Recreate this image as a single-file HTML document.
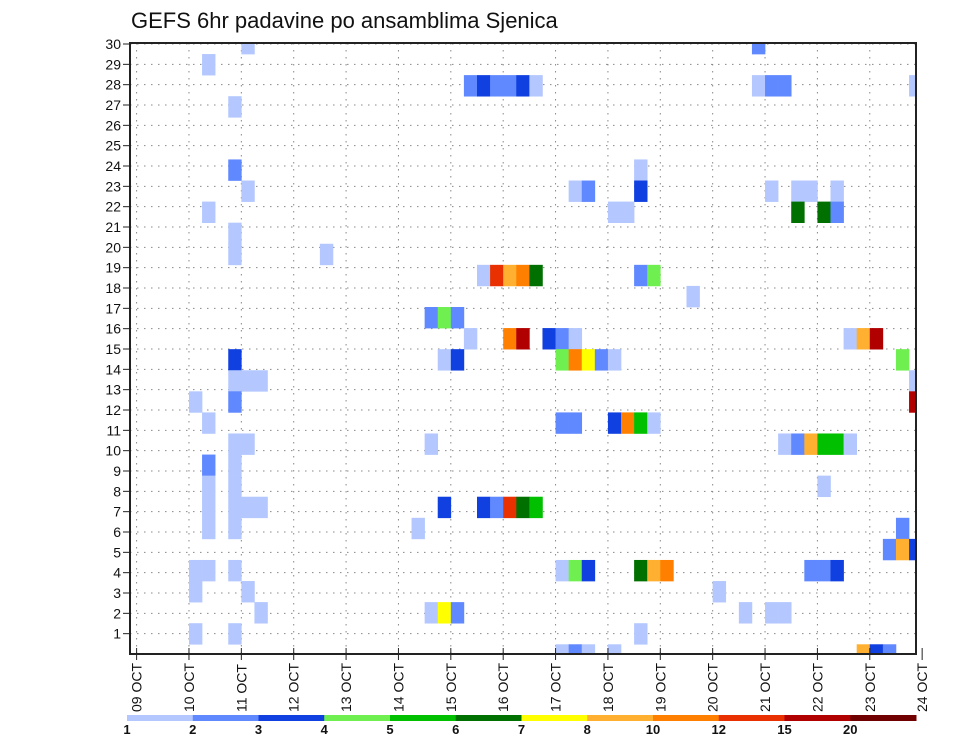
<!DOCTYPE html>
<html><head><meta charset="utf-8"><style>
body{margin:0;background:#fff;}
svg{display:block;font-family:"Liberation Sans",sans-serif;}
</style></head><body>
<svg id="chart" width="960" height="742" viewBox="0 0 960 742" xmlns="http://www.w3.org/2000/svg">
<text x="131" y="28" font-size="22" fill="#111">GEFS 6hr padavine po ansamblima Sjenica</text>
<g id="grid"></g><g id="cells"></g><g id="axes"></g><g id="legend"></g>
</svg>
<script>
const dayLabels=["09","10","11","12","13","14","15","16","17","18","19","20","21","22","23","24"];
const yTickLabels=[1,2,3,4,5,6,7,8,9,10,11,12,13,14,15,16,17,18,19,20,21,22,23,24,25,26,27,28,29,30];
const legendBreaks=["1","2","3","4","5","6","7","8","10","12","15","20"];
const levelColors=["#b4c8ff","#6088ff","#1040e0","#70f050","#00c000","#007000","#ffff00","#ffb030","#ff8000","#e83000","#b00000","#700000"];
// cells: [timeStep(6h from 09 OCT 00z), member, level index]
const cellSteps=[8,5,25,26,27,28,29,30,7,7,8,5,7,7,14,26,27,28,29,30,22,23,24,25,28,29,7,23,24,7,8,9,4,7,5,7,8,22,5,7,5,7,5,7,8,9,23,26,27,28,29,5,7,21,4,5,7,4,8,9,22,23,24,4,7,
47,47,48,49,59,38,33,34,38,48,50,51,53,36,37,50,52,53,38,39,42,31,32,33,54,55,56,32,33,34,35,36,58,59,59,32,33,36,37,38,39,49,50,51,52,53,54,52,30,58,57,58,59,32,33,34,38,39,40,51,52,53,44,46,48,49,38,32,33,34,36,55,56,57];
const cellMembers=[29,28,27,27,27,27,27,27,26,23,22,21,20,19,19,18,18,18,18,18,16,16,16,15,15,15,14,14,14,13,13,13,12,12,11,10,10,10,9,9,8,8,7,7,7,7,7,7,7,7,7,6,6,6,4,4,4,3,3,2,2,2,2,1,1,
29,27,27,27,27,23,22,22,22,22,22,22,22,21,21,21,21,21,18,18,17,15,15,15,15,15,15,14,14,14,14,14,14,13,12,11,11,11,11,11,11,10,10,10,10,10,10,8,7,6,5,5,5,4,4,4,4,4,4,4,4,4,3,2,2,2,1,0,0,0,0,0,0,0];
const cellLevels=[0,0,1,2,1,1,2,0,0,1,0,0,0,0,0,0,9,7,8,5,1,3,1,0,8,10,2,0,2,0,0,0,0,1,0,0,0,0,1,0,0,0,0,0,0,0,2,2,1,9,5,0,0,0,0,0,0,0,0,0,0,6,1,0,0,
1,0,1,1,0,0,0,1,2,0,0,0,0,0,0,5,5,1,1,3,0,2,1,0,0,7,10,3,8,6,1,0,3,0,10,1,1,2,8,4,0,0,1,7,4,4,0,0,4,1,1,7,2,0,3,2,5,7,8,1,1,2,0,0,0,0,0,0,1,0,0,7,2,1];

const NS="http://www.w3.org/2000/svg";
const X0=136.6, DAY=52.37, STEP=DAY/4, PL=130, PR=916, PT=43, PB=654;
const xDay=d=>X0+d*DAY;
const xStep=s=>X0+s*STEP;
const yCellTop=m=>644.3-21.08*m-21.08+21.08; // top of member band
const yCell=m=>623.2-21.08*(m-1);
const yTick=v=>654-20.333*v;
function mk(t,a,p){const e=document.createElementNS(NS,t);for(const k in a)e.setAttribute(k,a[k]);(p||document.getElementById('chart')).appendChild(e);return e;}
const grid=document.getElementById('grid'),cells=document.getElementById('cells'),axes=document.getElementById('axes'),legend=document.getElementById('legend');
mk('clipPath',{id:'plotclip'}).appendChild(Object.assign(document.createElementNS(NS,'rect'),{}));
const cp=document.getElementById('plotclip').firstChild;cp.setAttribute('x',PL);cp.setAttribute('y',PT);cp.setAttribute('width',PR-PL);cp.setAttribute('height',PB-PT);
cells.setAttribute('clip-path','url(#plotclip)');
// grid
yTickLabels.forEach(v=>{const l=mk('line',{x1:PL,x2:PR,y1:yTick(v),y2:yTick(v),stroke:'#888','stroke-width':1,'stroke-dasharray':'1.5 5.5'},grid);

});
dayLabels.forEach((d,i)=>{const x=xDay(i);if(x>PL&&x<PR){const l=mk('line',{x1:x,x2:x,y1:PT,y2:PB,stroke:'#888','stroke-width':1,'stroke-dasharray':'1.5 5.5'},grid);

}});
// cells
cellSteps.forEach((s,i)=>{const r=mk('rect',{x:xStep(s),y:yCell(cellMembers[i]),width:STEP+0.3,height:21.4,fill:levelColors[cellLevels[i]]},cells);

});
// frame
const fr=mk('rect',{x:PL,y:PT,width:PR-PL,height:PB-PT,fill:'none',stroke:'#222','stroke-width':2},axes);


yTickLabels.forEach(v=>{const y=yTick(v);mk('line',{x1:123,x2:PL,y1:y,y2:y,stroke:'#222','stroke-width':1},axes);
const t=mk('text',{x:121,y:y+5,'text-anchor':'end','font-size':14,fill:'#111'},axes);t.textContent=v;

});
dayLabels.forEach((d,i)=>{const x=xDay(i);mk('line',{x1:x,x2:x,y1:PB-6,y2:PB+6,stroke:'#222','stroke-width':1},axes);
const t=mk('text',{x:0,y:0,'text-anchor':'start','font-size':14,fill:'#111',transform:`translate(${x+5},712) rotate(-90)`},axes);t.textContent=d+' OCT';

});
// legend
const LX0=127,LW=(916-127)/12;
levelColors.forEach((c,i)=>{const r=mk('rect',{x:LX0+i*LW,y:715,width:LW+0.5,height:6,fill:c},legend);

});
legendBreaks.forEach((b,i)=>{const t=mk('text',{x:LX0+i*LW,y:734,'text-anchor':'middle','font-size':13,'font-weight':'bold',fill:'#111'},legend);t.textContent=b;

});
</script>
</body></html>
